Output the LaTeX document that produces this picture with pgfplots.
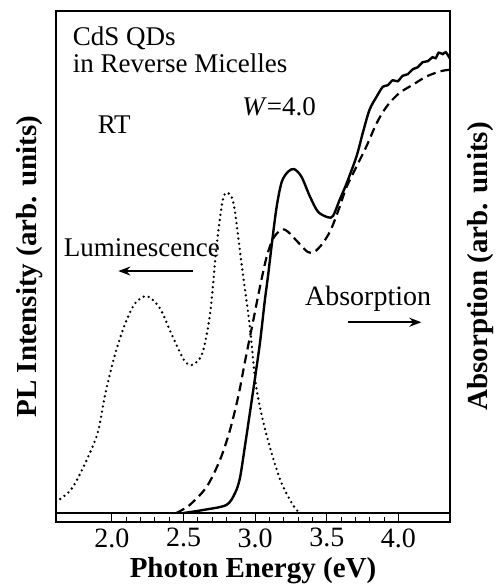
\documentclass[border=0pt]{standalone}
\usepackage{fontspec}
\setmainfont{Liberation Serif}
\usepackage{pgfplots}
\pgfplotsset{compat=1.18}
\usetikzlibrary{arrows.meta}

% PL (dotted, left axis)
\pgfplotstableread{
x y
1.610 0.022
1.713 0.046
1.802 0.092
1.900 0.159
1.955 0.239
2.025 0.319
2.094 0.378
2.163 0.418
2.246 0.432
2.335 0.408
2.414 0.358
2.503 0.305
2.562 0.295
2.631 0.318
2.686 0.398
2.730 0.530
2.770 0.617
2.799 0.638
2.849 0.617
2.908 0.490
2.963 0.371
3.007 0.252
3.076 0.159
3.175 0.066
3.264 0.016
3.310 0.000
}\pltable

% absorption, solid
\pgfplotstableread{
x y
2.500 0.000
2.637 0.006
2.799 0.016
2.860 0.040
2.894 0.070
2.928 0.132
2.963 0.199
2.997 0.265
3.034 0.340
3.066 0.420
3.091 0.475
3.116 0.535
3.150 0.610
3.186 0.660
3.230 0.680
3.272 0.685
3.323 0.670
3.383 0.630
3.439 0.600
3.509 0.589
3.544 0.592
3.590 0.624
3.636 0.655
3.707 0.710
3.752 0.758
3.798 0.803
3.847 0.829
3.891 0.849
3.925 0.852
3.960 0.862
3.995 0.860
4.030 0.871
4.065 0.874
4.100 0.884
4.135 0.888
4.169 0.898
4.205 0.900
4.238 0.908
4.260 0.906
4.281 0.917
4.310 0.914
4.330 0.918
4.360 0.905
}\abssolid

% absorption, dashed
\pgfplotstableread{
x y
2.450 0.000
2.543 0.016
2.661 0.052
2.755 0.106
2.824 0.165
2.882 0.232
2.928 0.300
2.987 0.384
3.034 0.451
3.080 0.510
3.126 0.547
3.186 0.565
3.230 0.560
3.297 0.540
3.367 0.520
3.413 0.520
3.471 0.537
3.528 0.564
3.590 0.610
3.636 0.648
3.707 0.690
3.776 0.730
3.847 0.776
3.916 0.809
4.004 0.836
4.100 0.853
4.192 0.869
4.281 0.879
4.330 0.882
4.360 0.883
}\absdashed

\begin{document}
\begin{tikzpicture}
\path[use as bounding box] (-28pt,-32.5pt) rectangle (220.5pt,261pt);
\begin{axis}[
  scale only axis,
  width=197pt, height=255.5pt,
  at={(0,0)}, anchor=south west,
  xmin=1.61, xmax=4.36,
  ymin=-0.0179, ymax=1,
  axis line style={line width=1pt},
  xtick={2.0,2.5,3.0,3.5,4.0},
  minor x tick num=4,
  xtick pos=bottom,
  tick align=inside,
  major tick length=4.5pt,
  minor tick length=2.5pt,
  tick style={line width=0.6pt, black},
  ytick=\empty,
  xticklabel style={font=\fontsize{14}{16}\selectfont, inner sep=1pt, yshift=-2pt,
    /pgf/number format/.cd, fixed, fixed zerofill, precision=1, assume math mode=true},
  xlabel={Photon Energy (eV)},
  xlabel style={font=\fontsize{14.5}{17}\selectfont\bfseries,
    at={(axis description cs:0.5,0)}, anchor=base, yshift=-27.5pt},
  ylabel={PL Intensity (arb. units)},
  ylabel style={font=\fontsize{14.5}{17}\selectfont\bfseries,
    at={(axis description cs:-0.0673,0.5)}, anchor=center},
  clip=true,
]
\addplot[black, line width=1.3pt, line cap=round, dash pattern=on 0pt off 2.6pt, smooth]
  table[x=x, y=y] {\pltable};
\addplot[black, line width=1.1pt, dash pattern=on 4.5pt off 2.6pt, smooth]
  table[x=x, y=y] {\absdashed};
\addplot[black, line width=1.2pt, smooth]
  table[x=x, y=y] {\abssolid};

% ruler strip line along the bottom
\draw[line width=0.8pt] (axis cs:1.61,0) -- (axis cs:4.36,0);

\node[anchor=base west, inner sep=0pt, font=\fontsize{13.5}{16}\selectfont] at (axis cs:1.725,0.932) {CdS QDs};
\node[anchor=base west, inner sep=0pt, font=\fontsize{13.5}{16}\selectfont] at (axis cs:1.725,0.878) {in Reverse Micelles};
\node[anchor=base west, inner sep=0pt, font=\fontsize{13.5}{16}\selectfont] at (axis cs:2.908,0.792) {\textit{W}=4.0};
\node[anchor=base west, inner sep=0pt, font=\fontsize{13.5}{16}\selectfont] at (axis cs:1.899,0.755) {RT};
\node[anchor=base west, inner sep=0pt, font=\fontsize{13.5}{16}\selectfont] at (axis cs:1.663,0.510) {Luminescence};
\node[anchor=base west, inner sep=0pt, font=\fontsize{14}{16}\selectfont] at (axis cs:3.346,0.414) {Absorption};
\draw[line width=1.2pt, -{Stealth[length=6pt,width=4.5pt]}] (axis cs:2.567,0.482) -- (axis cs:2.045,0.482);
\draw[line width=1.2pt, -{Stealth[length=6pt,width=4.5pt]}] (axis cs:3.645,0.380) -- (axis cs:4.160,0.380);
\end{axis}
\node[rotate=90, font=\fontsize{14.5}{17}\selectfont\bfseries] at (212.5pt,127.75pt) {Absorption (arb. units)};
\end{tikzpicture}
\end{document}
